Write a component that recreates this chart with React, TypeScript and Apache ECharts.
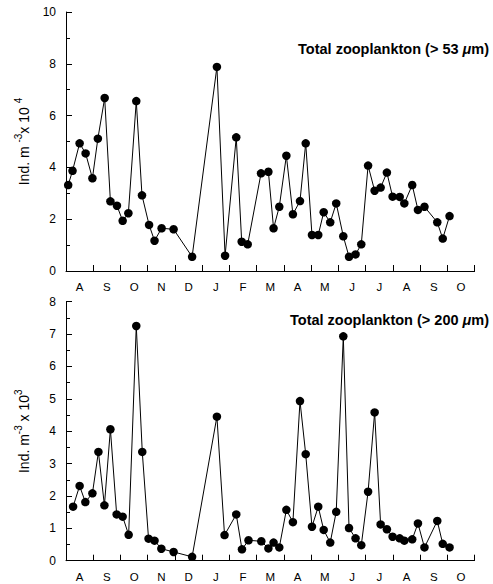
import React, { useEffect, useRef } from "react";
import * as echarts from "echarts";

const months = ["A", "S", "O", "N", "D", "J", "F", "M", "A", "M", "J", "J", "A", "S", "O"];

// x positions in months since the start of the first August
const topX = [0.08, 0.24, 0.5, 0.72, 0.97, 1.17, 1.42, 1.63, 1.87, 2.08, 2.29, 2.58, 2.79, 3.05, 3.25, 3.51, 3.95, 4.63, 5.54, 5.84, 6.25, 6.45, 6.67, 7.16, 7.43, 7.62, 7.83, 8.09, 8.33, 8.59, 8.8, 9.03, 9.26, 9.46, 9.7, 9.92, 10.18, 10.39, 10.63, 10.84, 11.09, 11.33, 11.55, 11.78, 11.99, 12.25, 12.42, 12.71, 12.92, 13.16, 13.63, 13.83, 14.08];
const topY = [3.32, 3.87, 4.93, 4.54, 3.58, 5.11, 6.68, 2.69, 2.52, 1.94, 2.23, 6.56, 2.92, 1.78, 1.17, 1.65, 1.61, 0.55, 7.88, 0.59, 5.16, 1.13, 1.03, 3.77, 3.83, 1.65, 2.48, 4.45, 2.19, 2.7, 4.93, 1.39, 1.39, 2.27, 1.88, 2.61, 1.34, 0.55, 0.64, 1.03, 4.07, 3.1, 3.22, 3.8, 2.87, 2.86, 2.61, 3.32, 2.36, 2.48, 1.88, 1.25, 2.12];

const bottomX = [0.26, 0.5, 0.71, 0.97, 1.19, 1.41, 1.63, 1.86, 2.08, 2.3, 2.58, 2.8, 3.03, 3.25, 3.5, 3.95, 4.63, 5.54, 5.82, 6.25, 6.46, 6.7, 7.17, 7.43, 7.62, 7.83, 8.09, 8.33, 8.59, 8.8, 9.03, 9.26, 9.46, 9.7, 9.92, 10.18, 10.39, 10.63, 10.84, 11.09, 11.33, 11.55, 11.78, 11.99, 12.25, 12.42, 12.71, 12.92, 13.16, 13.63, 13.83, 14.08];
const bottomY = [1.67, 2.31, 1.81, 2.08, 3.36, 1.71, 4.06, 1.43, 1.36, 0.8, 7.25, 3.36, 0.68, 0.62, 0.37, 0.27, 0.12, 4.45, 0.79, 1.43, 0.35, 0.63, 0.6, 0.38, 0.56, 0.41, 1.57, 1.19, 4.93, 3.29, 1.05, 1.67, 0.95, 0.56, 1.51, 6.93, 1.01, 0.69, 0.48, 2.13, 4.58, 1.12, 0.97, 0.74, 0.69, 0.62, 0.66, 1.15, 0.41, 1.23, 0.52, 0.41];

const topTitle = "{a|Total zooplankton (> 53 }{b|μ}{a|m)}";
const bottomTitle = "{a|Total zooplankton (> 200 }{b|μ}{a|m)}";
const topYName = "{m|Ind. m }{s|-3}{m|x 10 }{s|4}";
const bottomYName = "{m|Ind. m}{s|-3}{m| x 10}{s|3}";

const FONT = "Liberation Sans, Arial, Helvetica, sans-serif";

export default function App() {
  const ref = useRef<HTMLDivElement>(null);
  useEffect(() => {
    if (!ref.current) return;
    const chart = echarts.init(ref.current, null, { renderer: "svg" });
    const black = "#000";
    const nameRich = {
      m: { fontSize: 14, fontFamily: FONT, color: black, lineHeight: 18, verticalAlign: "bottom" },
      s: { fontSize: 10, fontFamily: FONT, color: black, lineHeight: 8, verticalAlign: "top" },
    };
    const titleRich = {
      a: { fontSize: 14.5, fontWeight: "bold", fontFamily: FONT, color: black },
      b: { fontSize: 14.5, fontWeight: "bold", fontStyle: "italic", fontFamily: FONT, color: black },
    };
    const valueX = (gridIndex: number) => ({
      type: "value",
      gridIndex,
      min: 0,
      max: 15,
      interval: 1,
      position: "bottom",
      axisLine: { show: true, onZero: false, lineStyle: { color: black, width: 1 } },
      axisTick: { show: true, inside: true, length: 6, lineStyle: { color: black } },
      axisLabel: { show: false },
      splitLine: { show: false },
    });
    const catX = (gridIndex: number) => ({
      type: "category",
      gridIndex,
      data: months,
      boundaryGap: true,
      position: "bottom",
      axisLine: { show: false },
      axisTick: { show: false },
      axisLabel: { show: true, interval: 0, fontSize: 11.5, fontFamily: FONT, color: black, margin: 10 },
      splitLine: { show: false },
    });
    const valueY = (gridIndex: number, max: number, interval: number, name: string) => ({
      type: "value",
      gridIndex,
      min: 0,
      max,
      interval,
      name,
      nameLocation: "middle",
      nameGap: 35,
      nameTextStyle: { rich: nameRich },
      axisLine: { show: true, lineStyle: { color: black, width: 1 } },
      axisTick: { show: true, inside: true, length: 6, lineStyle: { color: black } },
      minorTick: { show: true, splitNumber: 2, length: 4, lineStyle: { color: black } },
      axisLabel: { fontSize: 12, fontFamily: FONT, color: black, margin: 10 },
      splitLine: { show: false },
      minorSplitLine: { show: false },
    });
    const lineSeries = (idx: number, xs: number[], ys: number[]) => ({
      type: "line",
      xAxisIndex: idx === 0 ? 0 : 2,
      yAxisIndex: idx,
      data: xs.map((x, i) => [x, ys[i]]),
      symbol: "circle",
      symbolSize: 8.5,
      showSymbol: true,
      clip: false,
      itemStyle: { color: black, borderWidth: 0 },
      lineStyle: { color: black, width: 1 },
      emphasis: { disabled: true },
    });
    chart.setOption({
      animation: false,
      backgroundColor: "#fff",
      title: [
        { text: topTitle, right: 4, top: 41, padding: 0, textStyle: { rich: titleRich } },
        { text: bottomTitle, right: 4, top: 312, padding: 0, textStyle: { rich: titleRich } },
      ],
      grid: [
        { left: 66, top: 12, width: 408.6, height: 259, containLabel: false },
        { left: 66, top: 301.7, width: 408.6, height: 259, containLabel: false },
      ],
      xAxis: [valueX(0), catX(0), valueX(1), catX(1)],
      yAxis: [valueY(0, 10, 2, topYName), valueY(1, 8, 1, bottomYName)],
      series: [lineSeries(0, topX, topY), lineSeries(1, bottomX, bottomY)],
    });
    return () => chart.dispose();
  }, []);
  return (
    <div
      ref={ref}
      style={{ position: "fixed", left: 0, top: 0, width: 493, height: 584, background: "#fff" }}
    />
  );
}
